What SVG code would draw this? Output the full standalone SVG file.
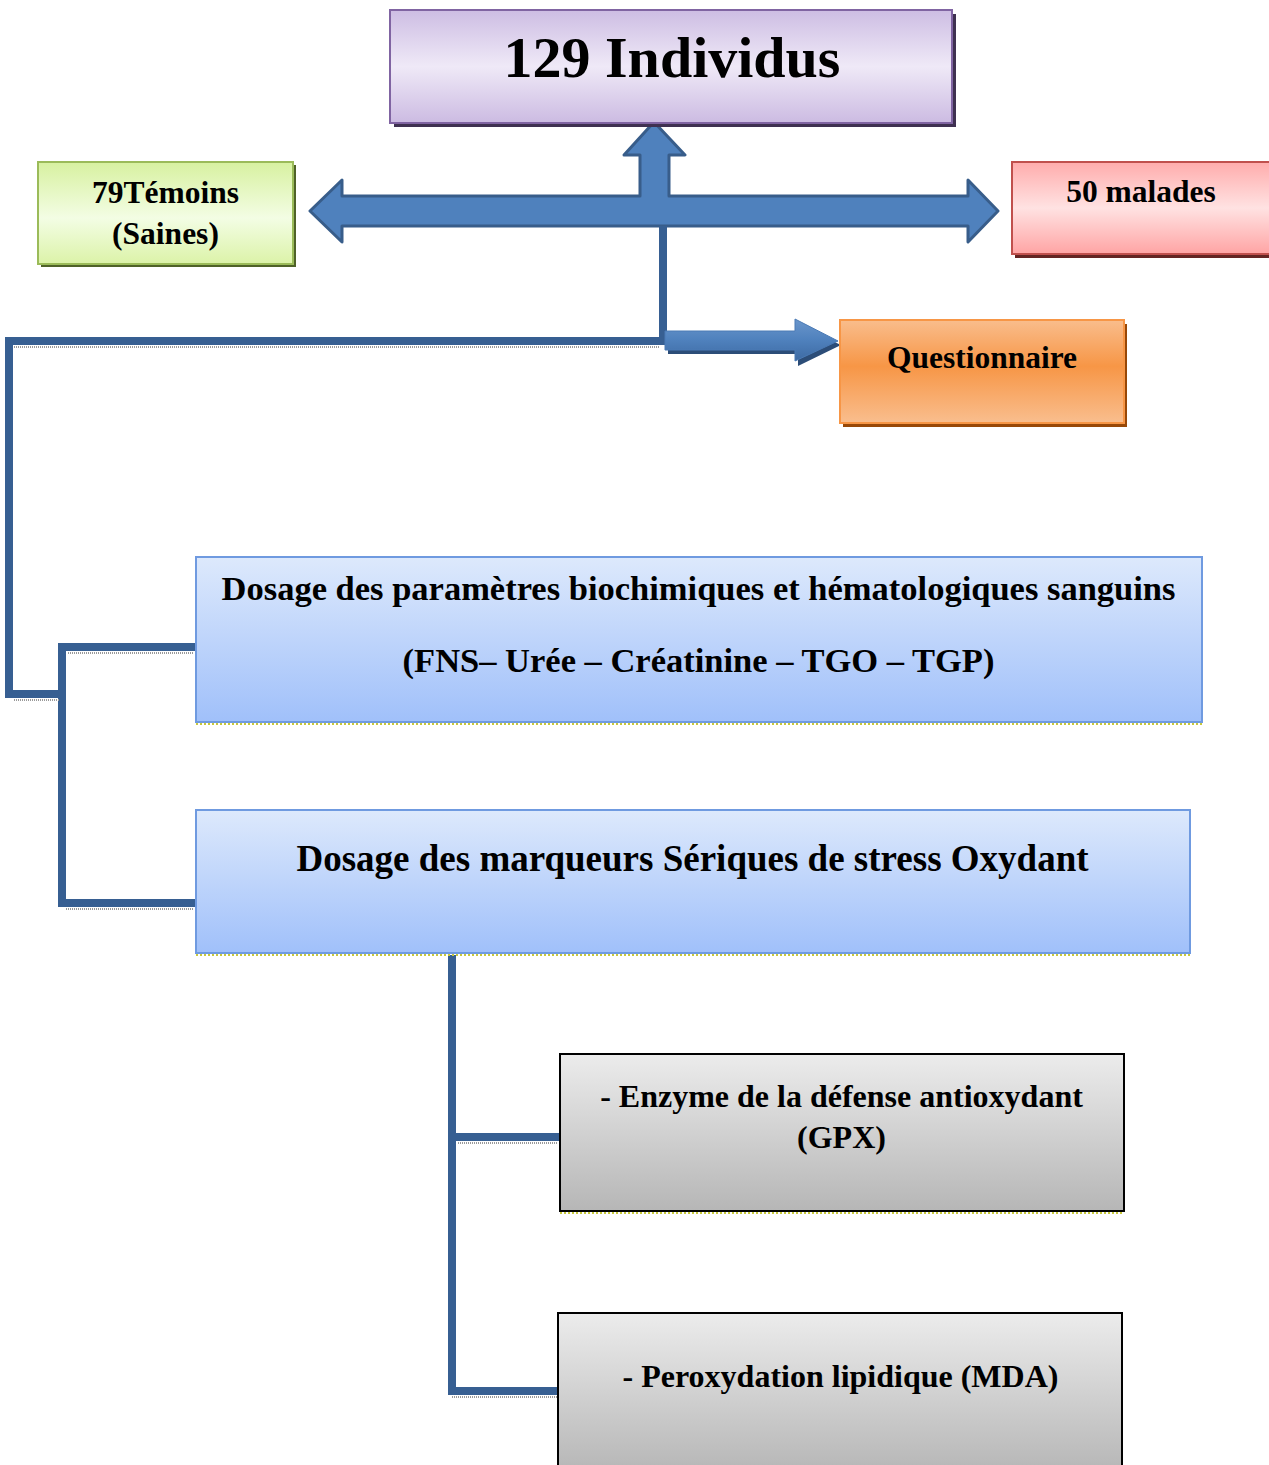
<svg xmlns="http://www.w3.org/2000/svg" width="1269" height="1465" viewBox="0 0 1269 1465">
<defs>
<linearGradient id="gPurple" x1="0" y1="0" x2="0" y2="1">
<stop offset="0" stop-color="#cdbde3"/><stop offset="0.5" stop-color="#efe9f7"/><stop offset="1" stop-color="#ccbbe2"/>
</linearGradient>
<linearGradient id="gGreen" x1="0" y1="0" x2="0" y2="1">
<stop offset="0" stop-color="#d7f1a0"/><stop offset="0.55" stop-color="#f3fde4"/><stop offset="1" stop-color="#dcf3a8"/>
</linearGradient>
<linearGradient id="gRed" x1="0" y1="0" x2="0" y2="1">
<stop offset="0" stop-color="#ffacac"/><stop offset="0.5" stop-color="#ffe2e2"/><stop offset="1" stop-color="#ffa4a4"/>
</linearGradient>
<linearGradient id="gOrange" x1="0" y1="0" x2="0" y2="1">
<stop offset="0" stop-color="#f9bd8c"/><stop offset="0.45" stop-color="#f79646"/><stop offset="1" stop-color="#f9be8e"/>
</linearGradient>
<linearGradient id="gBlue" x1="0" y1="0" x2="0" y2="1">
<stop offset="0" stop-color="#dde9fc"/><stop offset="1" stop-color="#a0c0fa"/>
</linearGradient>
<linearGradient id="gGray" x1="0" y1="0" x2="0" y2="1">
<stop offset="0" stop-color="#ececec"/><stop offset="1" stop-color="#b6b6b6"/>
</linearGradient>
<linearGradient id="gArrow" x1="0" y1="0" x2="0" y2="1">
<stop offset="0" stop-color="#6a96cc"/><stop offset="0.5" stop-color="#4f81bd"/><stop offset="1" stop-color="#3d6aa3"/>
</linearGradient>
</defs>
<style>
text{font-family:"Liberation Serif","Times New Roman",serif;font-weight:bold;fill:#000;text-anchor:middle}
.conn{fill:none;stroke:#375f92;stroke-width:8;stroke-linejoin:miter}
.dots{fill:none;stroke:#c8c83c;stroke-width:2;stroke-dasharray:2 2}
.gdots{fill:none;stroke:#9a9a9a;stroke-width:2;stroke-dasharray:1 1}
</style>

<g id="connectors">
<path d="M310,211 L342,180 L342,196 L640,196 L640,155 L624,155 L654,122 L685,155 L669,155 L669,196 L968,196 L968,180 L998,211 L968,242 L968,226 L342,226 L342,242 Z" fill="#4f81bd" stroke="#385d8a" stroke-width="3" stroke-linejoin="round"/>
<path class="conn" d="M663,226 L663,341 L9,341 L9,694 L62,694"/>
<path class="conn" d="M196,647 L62,647 L62,903 L196,903"/>
<path class="conn" d="M452,955 L452,1391 L560,1391"/>
<path class="conn" d="M452,1137 L560,1137"/>
<path class="gdots" d="M14,347 L660,347 M14,700 L60,700 M68,653 L194,653 M66,909 L194,909 M458,1143 L558,1143 M452,1397 L558,1397"/>
<path d="M668,337 L798,337 L798,325 L841,345 L798,366 L798,354 L668,354 Z" fill="#2c4d78"/>
<path d="M665,331 L795,331 L795,319 L838,341 L795,361 L795,350 L665,350 Z" fill="url(#gArrow)" stroke="#4a7ab5" stroke-width="1"/>
</g>

<g id="node-individus">
<rect x="394" y="14" width="562" height="113" fill="#3f3151"/>
<rect x="390" y="10" width="562" height="113" fill="url(#gPurple)" stroke="#8064a2" stroke-width="2"/>
<text x="672" y="77" font-size="58">129 Individus</text>
</g>

<g id="node-temoins">
<rect x="41" y="165" width="255" height="102" fill="#4f6228"/>
<rect x="38" y="162" width="255" height="102" fill="url(#gGreen)" stroke="#9bbb59" stroke-width="2"/>
<text x="165.5" y="203" font-size="31.5">79Témoins</text>
<text x="165.5" y="244" font-size="31.5">(Saines)</text>
</g>

<g id="node-malades">
<rect x="1015" y="166" width="260" height="92" fill="#632523"/>
<rect x="1012" y="162" width="262" height="92" fill="url(#gRed)" stroke="#c0504d" stroke-width="2"/>
<text x="1141" y="202" font-size="31.5">50 malades</text>
</g>

<g id="node-questionnaire">
<rect x="843" y="324" width="284" height="103" fill="#984807"/>
<rect x="840" y="320" width="284" height="103" fill="url(#gOrange)" stroke="#f79646" stroke-width="2"/>
<text x="982" y="368" font-size="31.5">Questionnaire</text>
</g>

<g id="node-dosage-bio">
<rect x="196" y="557" width="1006" height="165" fill="url(#gBlue)" stroke="#6f9ae0" stroke-width="2"/>
<path class="dots" d="M196,724 L1202,724"/>
<text x="698.5" y="600" font-size="34.5">Dosage des paramètres biochimiques et hématologiques sanguins</text>
<text x="698.5" y="672" font-size="34.5">(FNS– Urée – Créatinine – TGO – TGP)</text>
</g>

<g id="node-dosage-stress">
<rect x="196" y="810" width="994" height="143" fill="url(#gBlue)" stroke="#6f9ae0" stroke-width="2"/>
<path class="dots" d="M196,955 L1190,955"/>
<text x="692.5" y="871" font-size="37">Dosage des marqueurs Sériques de stress Oxydant</text>
</g>

<g id="node-gpx">
<rect x="560" y="1054" width="564" height="157" fill="url(#gGray)" stroke="#000" stroke-width="2"/>
<path class="dots" d="M560,1213 L1124,1213"/>
<text x="841.5" y="1107" font-size="32">- Enzyme de la défense antioxydant</text>
<text x="841.5" y="1148" font-size="32">(GPX)</text>
</g>

<g id="node-mda">
<rect x="558" y="1313" width="564" height="160" fill="url(#gGray)" stroke="#000" stroke-width="2"/>
<text x="840.5" y="1387" font-size="32">- Peroxydation lipidique (MDA)</text>
</g>
</svg>
